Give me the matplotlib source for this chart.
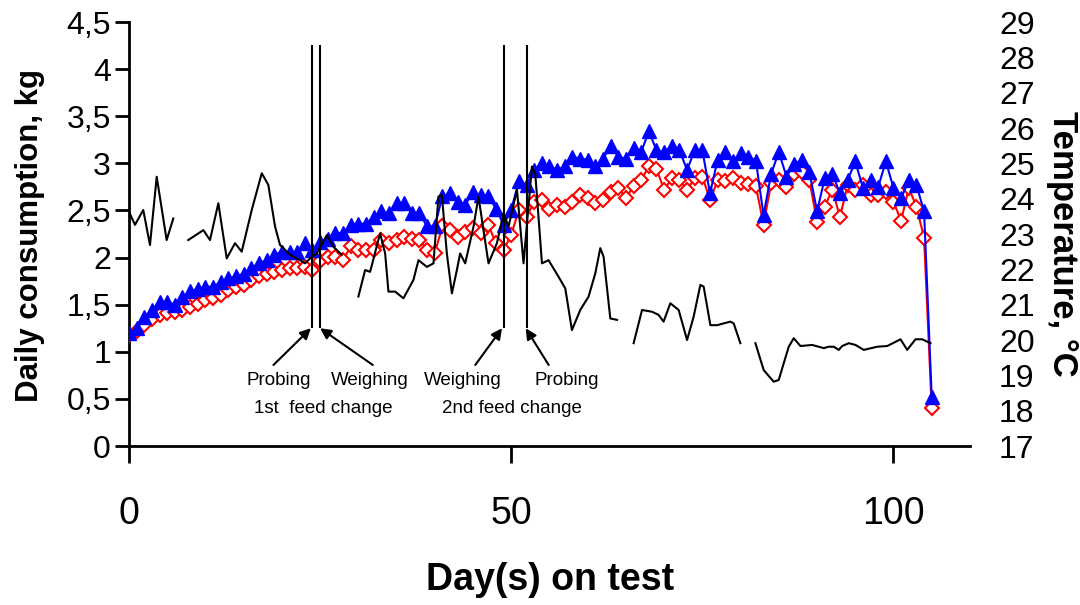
import numpy as np
import matplotlib
matplotlib.use("Agg")
import matplotlib.pyplot as plt

plt.rcParams['font.family'] = ['Liberation Sans', 'DejaVu Sans']

# daily consumption, kg (days 0..105)
days = list(range(0, 106))
cons_blue = [1.20, 1.25, 1.37, 1.44, 1.53, 1.53, 1.50, 1.58, 1.64, 1.67,
             1.69, 1.69, 1.74, 1.78, 1.80, 1.83, 1.89, 1.94, 1.97, 2.03,
             2.06, 2.06, 2.06, 2.15, 2.08, 2.17, 2.20, 2.26, 2.26, 2.35,
             2.36, 2.36, 2.43, 2.49, 2.47, 2.58, 2.58, 2.47, 2.47, 2.33,
             2.33, 2.65, 2.68, 2.59, 2.56, 2.70, 2.66, 2.65, 2.52, 2.35,
             2.51, 2.81, 2.77, 2.93, 3.00, 2.97, 2.93, 2.97, 3.07, 3.05,
             3.04, 2.97, 3.05, 3.18, 3.07, 3.05, 3.16, 3.12, 3.34, 3.14,
             3.12, 3.18, 3.14, 2.93, 3.14, 3.14, 2.68, 3.04, 3.12, 3.02,
             3.11, 3.07, 3.03, 2.45, 2.89, 3.12, 2.86, 2.99, 3.04, 2.91,
             2.49, 2.84, 2.89, 2.68, 2.82, 3.02, 2.74, 2.82, 2.75, 3.02,
             2.74, 2.63, 2.82, 2.77, 2.49, 0.52]
cons_red = [1.18, 1.22, 1.28, 1.35, 1.39, 1.41, 1.42, 1.44, 1.48, 1.51,
            1.55, 1.57, 1.60, 1.66, 1.69, 1.71, 1.76, 1.80, 1.83, 1.85,
            1.87, 1.89, 1.89, 1.90, 1.87, 1.96, 2.01, 2.01, 1.97, 2.12,
            2.08, 2.08, 2.08, 2.19, 2.15, 2.19, 2.22, 2.20, 2.19, 2.08,
            2.05, 2.33, 2.29, 2.22, 2.27, 2.31, 2.26, 2.35, 2.15, 2.08,
            2.24, 2.51, 2.43, 2.59, 2.61, 2.52, 2.56, 2.54, 2.59, 2.66,
            2.63, 2.58, 2.61, 2.70, 2.74, 2.63, 2.76, 2.82, 2.97, 2.94,
            2.72, 2.84, 2.82, 2.72, 2.84, 2.86, 2.61, 2.82, 2.81, 2.84,
            2.79, 2.78, 2.76, 2.35, 2.79, 2.82, 2.75, 2.89, 2.91, 2.82,
            2.38, 2.54, 2.72, 2.43, 2.77, 2.72, 2.77, 2.66, 2.66, 2.70,
            2.59, 2.39, 2.74, 2.54, 2.21, 0.40]

# temperature, °C (gaps = nan)
nan = np.nan
temp_day = [0.0, 0.79, 1.87, 2.75, 3.63, 4.93, 5.80, nan,
            7.76, 9.73, 10.60, 11.69, 12.79, 13.87, 14.75, 16.06, 17.37, 18.23,
            19.11, 19.76, 21.07, 22.38, 23.04, 23.69, 24.57, 25.88, 26.74, 27.84, nan,
            30.01, 30.89, 31.54, 32.85, 33.51, 33.94, 34.82, 35.90, 37.21, 37.87,
            38.97, 39.83, 40.48, 40.93, 41.58, 42.24, 42.89, 43.32, 43.98, 45.07,
            45.72, 46.37, 47.03, 48.13, 48.99, 49.65, 50.75, 51.61, 52.71, 53.14,
            54.02, 54.88, 56.19, 57.07, 57.94, 59.03, 60.12, 61.00, 61.65, 62.08,
            62.96, 63.84, nan,
            66.01, 67.11, 68.42, 69.28, 69.93, 70.81, 71.90, 73.00, 73.86, 74.74,
            75.17, 76.05, 76.92, 77.79, 78.66, 79.10, 79.97, nan,
            81.94, 83.02, 84.33, 84.99, 85.64, 86.30, 86.95, 87.83, 89.36, 90.88,
            91.53, 92.19, 92.84, 93.29, 94.15, 95.03, 96.11, 97.87, 99.18, 100.92,
            101.79, 102.88, 103.76, 104.84]
temp_c = [23.63, 23.26, 23.68, 22.69, 24.62, 22.83, 23.44, nan,
          22.83, 23.11, 22.83, 23.87, 22.31, 22.74, 22.50, 23.68, 24.72, 24.39,
          23.21, 22.69, 22.41, 22.26, 22.17, 22.31, 22.45, 22.97, 22.64, 22.41, nan,
          21.23, 21.98, 21.93, 23.02, 22.45, 21.37, 21.37, 21.18, 21.70, 22.26,
          22.07, 22.17, 24.06, 24.10, 22.45, 21.32, 21.98, 22.45, 22.17, 23.21,
          24.06, 23.11, 22.17, 22.74, 23.59, 23.21, 24.25, 22.17, 24.91, 24.72,
          22.17, 22.26, 21.79, 21.46, 20.28, 20.85, 21.23, 21.89, 22.60, 22.36,
          20.61, 20.57, nan,
          19.91, 20.85, 20.80, 20.71, 20.52, 21.04, 20.85, 20.00, 20.66, 21.56,
          21.51, 20.42, 20.42, 20.47, 20.52, 20.47, 19.91, nan,
          19.91, 19.15, 18.82, 18.87, 19.34, 19.81, 20.05, 19.83, 19.86, 19.77,
          19.81, 19.81, 19.72, 19.83, 19.91, 19.86, 19.72, 19.81, 19.83, 20.02,
          19.72, 20.02, 20.02, 19.91]

event_days = [24, 25, 49, 52]
y_ticks = [0, 0.5, 1, 1.5, 2, 2.5, 3, 3.5, 4, 4.5]
y_labels = ["0", "0,5", "1", "1,5", "2", "2,5", "3", "3,5", "4", "4,5"]
t_ticks = list(range(17, 30))
x_ticks = [0, 50, 100]

fig = plt.figure(figsize=(10.8, 6.05), dpi=100)
ax = fig.add_axes([0.1194, 0.2628, 0.7787, 0.7008])

ax.plot(days, cons_red, color='#FF0000', lw=1.5, marker='D', markersize=7.5,
        markerfacecolor='white', markeredgecolor='#FF0000', markeredgewidth=1.5, zorder=3)
ax.plot(days, cons_blue, color='#0000FF', lw=1.5, marker='^', markersize=10,
        markerfacecolor='#0000FF', markeredgecolor='#0000FF', zorder=4)

ax.vlines(event_days, 1.25, 4.26, color='black', lw=1.5, zorder=5)

# annotations
arr = dict(arrowstyle='-|>', color='black', lw=1.5, mutation_scale=16, shrinkA=0, shrinkB=0)
ax.annotate('', xy=(23.8, 1.25), xytext=(18.9, 0.86), arrowprops=arr)
ax.annotate('', xy=(25.0, 1.25), xytext=(31.9, 0.86), arrowprops=arr)
ax.annotate('', xy=(48.8, 1.25), xytext=(45.3, 0.86), arrowprops=arr)
ax.annotate('', xy=(51.9, 1.25), xytext=(54.9, 0.86), arrowprops=arr)
fs_a = 13.5
ax.text(19.6, 0.70, 'Probing', ha='center', va='center', fontsize=fs_a)
ax.text(31.5, 0.70, 'Weighing', ha='center', va='center', fontsize=fs_a)
ax.text(25.4, 0.40, '1st  feed change', ha='center', va='center', fontsize=fs_a)
ax.text(43.7, 0.70, 'Weighing', ha='center', va='center', fontsize=fs_a)
ax.text(57.3, 0.70, 'Probing', ha='center', va='center', fontsize=fs_a)
ax.text(50.1, 0.40, '2nd feed change', ha='center', va='center', fontsize=fs_a)

ax.set_xlim(0, 110)
ax.set_ylim(0, 4.5)
ax.set_yticks(y_ticks)
ax.set_yticklabels(y_labels)
ax.set_xticks(x_ticks)
ax.tick_params(axis='y', labelsize=23, width=2, length=10, direction='out', pad=3)
ax.tick_params(axis='x', labelsize=27, width=2, length=12, direction='out', pad=24)
ax.spines['top'].set_visible(False)
ax.spines['right'].set_visible(False)
ax.spines['left'].set_linewidth(2)
ax.spines['bottom'].set_linewidth(2)

ax2 = ax.twinx()
ax2.plot(temp_day, temp_c, color='black', lw=1.5, zorder=6)
ax2.set_ylim(17, 29)
ax2.set_yticks(t_ticks)
ax2.tick_params(axis='y', labelsize=23, length=0, pad=21)
for s in ax2.spines.values():
    s.set_visible(False)

fig.text(30 / 1080, 1 - 235 / 605, 'Daily consumption, kg', rotation=90,
         ha='center', va='center', fontsize=22.5, fontweight='bold')
fig.text(1062 / 1080, 1 - 244 / 605, 'Temperature, °C', rotation=-90,
         ha='center', va='center', fontsize=25, fontweight='bold')
fig.text(550 / 1080, 1 - 580 / 605, 'Day(s) on test', ha='center', va='center',
         fontsize=27, fontweight='bold')

fig.savefig('out.png', dpi=100)
